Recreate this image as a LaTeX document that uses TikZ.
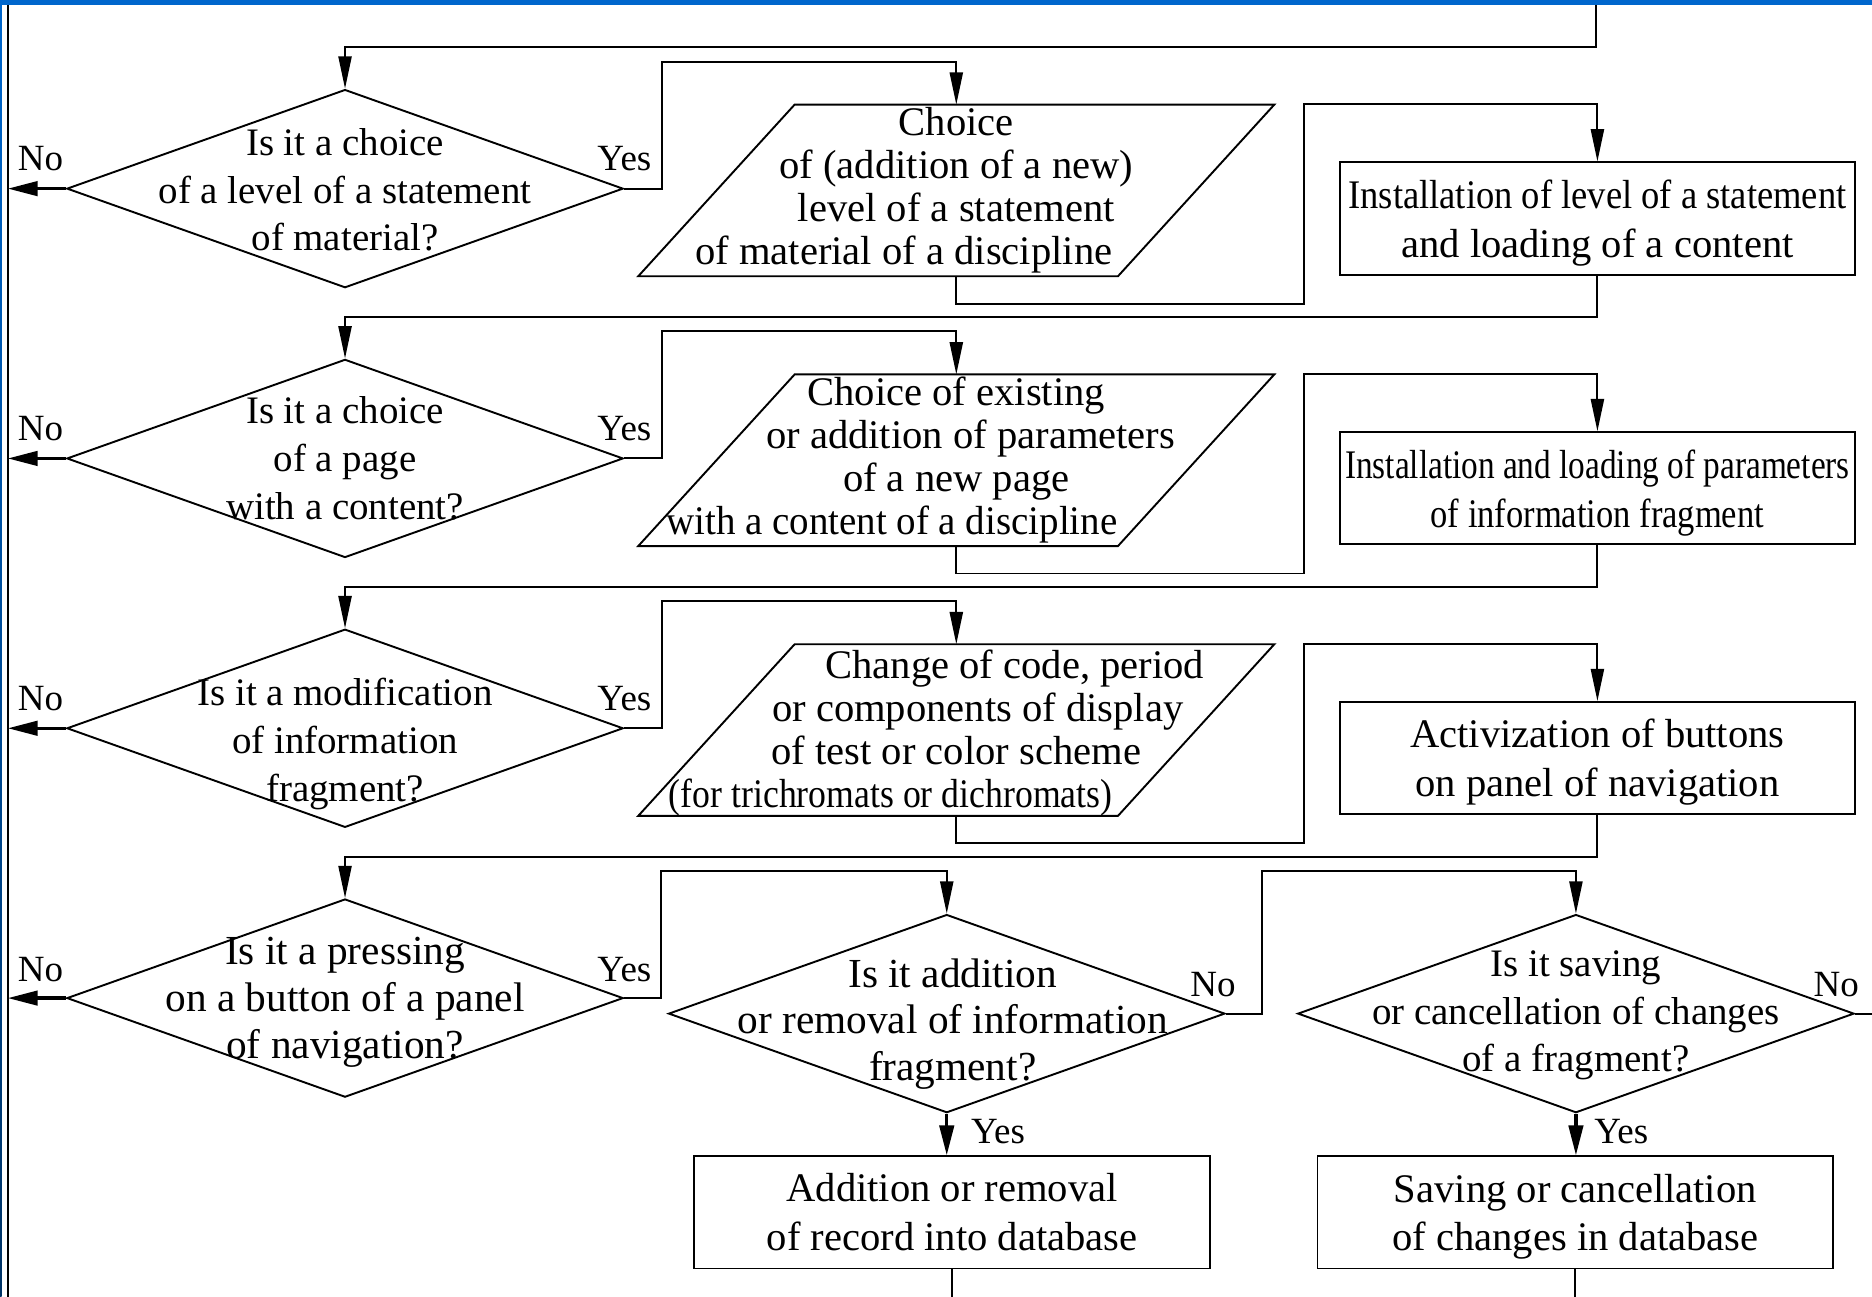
\documentclass[tikz,border=0pt]{standalone}
\usepackage{fontspec}
\usepackage{graphicx}
\setmainfont{Liberation Serif}
\usetikzlibrary{shapes.geometric,arrows.meta,calc}
\definecolor{barblue}{HTML}{0066CC}
\definecolor{navyblue}{HTML}{003366}
\newcommand\drawpgram[1]{\draw[line width=0.8pt] ($(#1.north west)+(65.5,0)$) -- ($(#1.north east)+(65.5,0)$) -- ($(#1.south east)+(-65.5,0)$) -- ($(#1.south west)+(-65.5,0)$) -- cycle;}
\newcommand\zdp[1]{\raisebox{0pt}[\height][0pt]{#1}}
\begin{document}
\begin{tikzpicture}[x=0.5pt,y=-0.5pt,
  ln/.style={line width=0.8pt},
  arr/.style={ln,-{Triangle[length=13.5pt,width=5.5pt]}},
  thickarr/.style={line width=1.4pt,-{Triangle[length=12.5pt,width=6pt]}},
  dia/.style={draw,ln,shape=diamond,minimum width=233pt,minimum height=83pt,inner sep=0pt},
  dtxt/.style={font=\fontsize{16.3}{20}\selectfont,align=center,inner sep=0pt},
  dtxtb/.style={font=\fontsize{17.3}{19.5}\selectfont,align=center,inner sep=0pt},
  ptxt/.style={font=\fontsize{17}{18}\selectfont,align=center,inner sep=0pt},
  pg/.style={minimum width=200.5pt,minimum height=71.5pt,inner sep=0pt},
  box/.style={draw,ln,minimum width=216pt,minimum height=47pt,inner sep=0pt,font=\fontsize{17}{20.5}\selectfont,align=center},
  lab/.style={font=\fontsize{15.5}{18}\selectfont,inner sep=0pt}
]
\useasboundingbox (0,0) rectangle (1568,1086);
% frame decorations
\fill[barblue] (0,0) rectangle (1568,4);
\shade[top color=barblue,bottom color=navyblue] (0,0) rectangle (1.3,1086);
\coordinate (topin) at (1337,4);
\coordinate (L) at (6.5,4);
\coordinate (Lb) at (6.5,1086);
\coordinate (R) at (1568,849);
\coordinate (B) at (0,1086);
\draw[ln] (L) -- (Lb);

% row 1
\node[dia,label={[dtxt,yshift=-0.5pt]center:{Is it a choice\\of a level of a statement\\of material?}}] (d1) at (289,158) {};
\node[pg,label={[ptxt,yshift=0.25pt]center:{Choice\\of (addition of a new)\\level of a statement\\of material of a discipline\hspace*{44pt}}}] (p1) at (801,159.5) {};
\drawpgram{p1}
\node[box] (b1) at (1338,183) {\scalebox{0.9}[1]{Installation of level of a statement}\\\zdp{and loading of a content}};

% row 2
\node[dia,label={[dtxt]center:{Is it a choice\\of a page\\with a content?}}] (d2) at (289,384) {};
\node[pg,label={[ptxt,yshift=-0.1pt]center:{Choice of existing\\\hspace*{12pt}or addition of parameters\\of a new page\\\scalebox{0.96}[1]{with a content of a discipline}\hspace*{54pt}}}] (p2) at (801,385.5) {};
\drawpgram{p2}
\node[box] (b2) at (1338,409) {\scalebox{0.82}[1]{Installation and loading of parameters}\\\zdp{\scalebox{0.85}[1]{of information fragment}}};

% row 3
\node[dia,label={[dtxt,yshift=-6.5pt]center:{Is it a modification\\of information\\fragment?}}] (d3) at (289,610) {};
\node[pg,label={[ptxt,yshift=-1.1pt]center:{\hspace*{49pt}Change of code, period\\\hspace*{18pt}or components of display\\of test or color scheme\hspace*{15pt}\\\scalebox{0.88}[1]{(for trichromats or dichromats)}\hspace*{55pt}}}] (p3) at (801,611.5) {};
\drawpgram{p3}
\node[box] (b3) at (1338,635) {Activization of buttons\\\zdp{on panel of navigation}};

% row 4
\node[dia,label={[dtxtb,yshift=-1.75pt]center:{Is it a pressing\\on a button of a panel\\of navigation?}}] (d4) at (289,836) {};
\node[dia,label={[dtxtb,xshift=2.5pt,yshift=-4.25pt]center:{Is it addition\\or removal of information\\fragment?}}] (d5) at (793,849) {};
\node[dia,label={[dtxt,yshift=-0.75pt]center:{Is it saving\\or cancellation of changes\\of a fragment?}}] (d6) at (1320,849) {};
\node[box] (b5) at (797.5,1015.5) {Addition or removal\\of record into database};
\node[box] (b6) at (1319.5,1015.5) {Saving or cancellation\\\zdp{of changes in database}};

% labels
\node[lab] (no1) at (34,133) {No};
\node[lab] (no2) at (34,359) {No};
\node[lab] (no3) at (34,585) {No};
\node[lab] (no4) at (34,812) {No};
\node[lab] (yes1) at (523,133) {Yes};
\node[lab] (yes2) at (523,359) {Yes};
\node[lab] (yes3) at (523,585) {Yes};
\node[lab] (yes4) at (523,812) {Yes};
\node[lab] (no5) at (1016,825) {No};
\node[lab] (no6) at (1538,825) {No};
\node[lab] (yes5) at (836,948) {Yes};
\node[lab] (yes6) at (1358,948) {Yes};

% connectors
\draw[arr] (topin) -- ++(0,35) -| (d1.north);
\draw[arr] (d1.east) -- ++(32,0) |- ($(p1.north)+(0,-36)$) -- (p1.north);
\draw[arr] (p1.south) -- ++(0,23) -- ++(291,0) |- ($(b1.north)+(0,-48)$) -- (b1.north);
\draw[arr] (b1.south) -- ++(0,35) -| (d2.north);
\draw[arr] (d2.east) -- ++(32,0) |- ($(p2.north)+(0,-36)$) -- (p2.north);
\draw[arr] (p2.south) -- ++(0,23) -- ++(291,0) |- ($(b2.north)+(0,-48)$) -- (b2.north);
\draw[arr] (b2.south) -- ++(0,35) -| (d3.north);
\draw[arr] (d3.east) -- ++(32,0) |- ($(p3.north)+(0,-36)$) -- (p3.north);
\draw[arr] (p3.south) -- ++(0,23) -- ++(291,0) |- ($(b3.north)+(0,-48)$) -- (b3.north);
\draw[arr] (b3.south) -- ++(0,35) -| (d4.north);
\draw[arr] (d4.east) -- ++(31,0) |- ($(d5.north)+(0,-36)$) -- (d5.north);
\draw[arr] (d5.east) -- ++(30,0) |- ($(d6.north)+(0,-36)$) -- (d6.north);
\draw[thickarr] (d5.south) -- (d5.south |- b5.north);
\draw[thickarr] (d6.south) -- (d6.south |- b6.north);
\draw[ln] (b5.south) -- (b5.south |- B);
\draw[ln] (b6.south) -- (b6.south |- B);
\draw[ln] (d6.east) -- (R);
\draw[thickarr] (d1.west) -- (d1.west -| L);
\draw[thickarr] (d2.west) -- (d2.west -| L);
\draw[thickarr] (d3.west) -- (d3.west -| L);
\draw[thickarr] (d4.west) -- (d4.west -| L);
\end{tikzpicture}
\end{document}
